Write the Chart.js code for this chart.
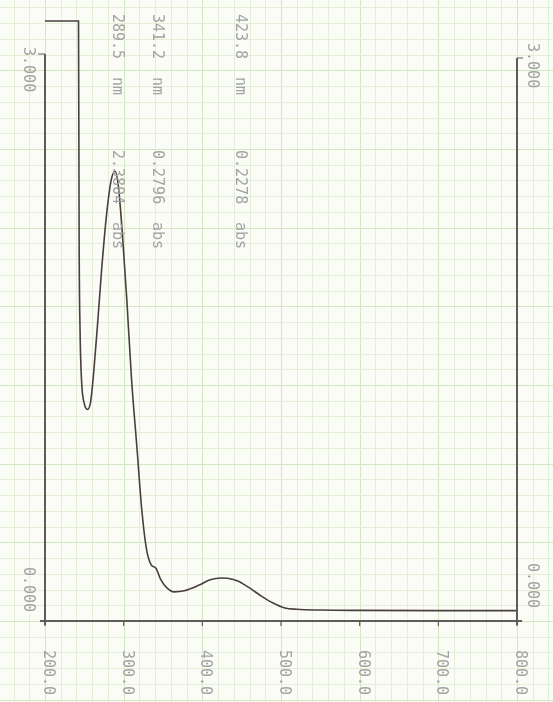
<!DOCTYPE html>
<html>
<head>
<meta charset="utf-8">
<script src="https://cdn.jsdelivr.net/npm/chart.js@4.4.1/dist/chart.umd.min.js"></script>
<style>
  html, body { margin: 0; padding: 0; background: #fbfcf6; }
  #wrap { width: 553px; height: 702px; position: relative; }
</style>
</head>
<body>
<div id="wrap"><canvas id="spectrum" width="553" height="702"></canvas></div>
<script>
const wavelengths = [200, 242, 242.6, 243.4, 244.5, 246.5, 250, 254, 258, 262, 267, 272, 278, 284, 289, 293, 298, 304, 310, 317, 323, 329, 335, 341, 347, 355, 364, 377, 396, 410, 424, 432, 445, 460, 475, 490, 505, 520, 550, 600, 700, 800];
const absorbance = [3.175, 3.175, 3.175, 2.0, 1.55, 1.27, 1.15, 1.12, 1.16, 1.32, 1.58, 1.86, 2.14, 2.33, 2.38, 2.31, 2.07, 1.70, 1.28, 0.91, 0.59, 0.38, 0.297, 0.2796, 0.22, 0.175, 0.154, 0.16, 0.19, 0.218, 0.2278, 0.226, 0.212, 0.175, 0.132, 0.095, 0.069, 0.062, 0.058, 0.056, 0.055, 0.055];

const xTickValues = [200, 300, 400, 500, 600, 700, 800];
const xTickLabels = ['200.0', '300.0', '400.0', '500.0', '600.0', '700.0', '800.0'];
const yTickValues = [0, 3];
const yTickLabels = ['0.000', '3.000'];

// Picos marcados en la impresión
const peakNm = ['289.5', '341.2', '423.8'];
const peakAbs = ['2.3804', '0.2796', '0.2278'];

const axisColor = '#5c5c5c';
const textColor = '#a3a3a3';
const lineColor = '#4a3e3f';

function drawRotated(ctx, text, x, y) {
    ctx.save();
    ctx.translate(x, y);
    ctx.rotate(Math.PI / 2);
    ctx.textAlign = 'left';
    ctx.textBaseline = 'middle';
    ctx.fillText(text, 0, 0);
    ctx.restore();
}

// Papel milimetrado de fondo
const paperPlugin = {
    id: 'paper',
    beforeDraw(chart) {
        const { ctx, scales: { x, y } } = chart;
        const step = x.getPixelForValue(220) - x.getPixelForValue(200);
        const x0 = x.getPixelForValue(200);
        const y0 = y.getPixelForValue(0);
        ctx.save();
        ctx.fillStyle = '#fbfcf6';
        ctx.fillRect(0, 0, chart.width, chart.height);
        for (let i = -4; i < 40; i++) {
            const px = x0 + i * step;
            ctx.strokeStyle = (i % 5 === 0) ? '#d3e6c4' : '#e3efd9';
            ctx.lineWidth = 1;
            ctx.beginPath();
            ctx.moveTo(Math.round(px) + 0.5, 0);
            ctx.lineTo(Math.round(px) + 0.5, chart.height);
            ctx.stroke();
        }
        for (let i = -6; i < 45; i++) {
            const py = y0 - i * step;
            ctx.strokeStyle = (i % 5 === 0) ? '#d3e6c4' : '#e3efd9';
            ctx.beginPath();
            ctx.moveTo(0, Math.round(py) + 0.5);
            ctx.lineTo(chart.width, Math.round(py) + 0.5);
            ctx.stroke();
        }
        ctx.restore();
    }
};

// Ejes, marcas y textos girados
const framePlugin = {
    id: 'frame',
    afterDatasetsDraw(chart) {
        const { ctx, scales: { x, y } } = chart;
        const left = x.getPixelForValue(200);
        const right = x.getPixelForValue(800);
        const bottom = y.getPixelForValue(0);
        const top = y.getPixelForValue(3);

        ctx.save();
        ctx.strokeStyle = axisColor;
        ctx.lineWidth = 2;
        ctx.beginPath();
        ctx.moveTo(left, top);
        ctx.lineTo(left, bottom + 4);
        ctx.moveTo(right, top + 4);
        ctx.lineTo(right, bottom + 4);
        ctx.moveTo(left - 5, bottom);
        ctx.lineTo(right + 5, bottom);
        ctx.stroke();

        ctx.lineWidth = 1.2;
        ctx.beginPath();
        ctx.moveTo(left - 7, top);
        ctx.lineTo(left, top);
        ctx.moveTo(right, top + 4);
        ctx.lineTo(right + 6, top + 4);
        xTickValues.forEach(v => {
            const px = x.getPixelForValue(v);
            ctx.moveTo(px, bottom);
            ctx.lineTo(px, bottom + 5);
        });
        ctx.stroke();

        ctx.fillStyle = textColor;
        ctx.font = '15px "DejaVu Sans Mono"';
        xTickValues.forEach((v, i) => {
            drawRotated(ctx, xTickLabels[i], x.getPixelForValue(v) + 3, bottom + 29);
        });
        yTickValues.forEach((v, i) => {
            const py = y.getPixelForValue(v);
            const off = v === 0 ? -54 : -7;
            drawRotated(ctx, yTickLabels[i], left - 17, py + off);
            drawRotated(ctx, yTickLabels[i], right + 15, py + off - 4);
        });

        const colX = [117, 157, 240];
        peakNm.forEach((t, i) => {
            drawRotated(ctx, t, colX[i], 14);
            drawRotated(ctx, 'nm', colX[i], 77);
            drawRotated(ctx, peakAbs[i], colX[i], 150);
            drawRotated(ctx, 'abs', colX[i], 222);
        });
        ctx.restore();
    }
};

new Chart(document.getElementById('spectrum'), {
    type: 'line',
    data: {
        datasets: [{
            data: wavelengths.map((w, i) => ({ x: w, y: absorbance[i] })),
            borderColor: lineColor,
            borderWidth: 1.6,
            pointRadius: 0,
            cubicInterpolationMode: 'monotone',
            fill: false
        }]
    },
    options: {
        responsive: false,
        animation: false,
        layout: { padding: { left: 45, right: 36, top: 20, bottom: 81 } },
        plugins: { legend: { display: false }, tooltip: { enabled: false } },
        scales: {
            x: { type: 'linear', min: 200, max: 800, display: false },
            y: { min: 0, max: 3.18, display: false }
        }
    },
    plugins: [paperPlugin, framePlugin]
});
</script>
</body>
</html>
